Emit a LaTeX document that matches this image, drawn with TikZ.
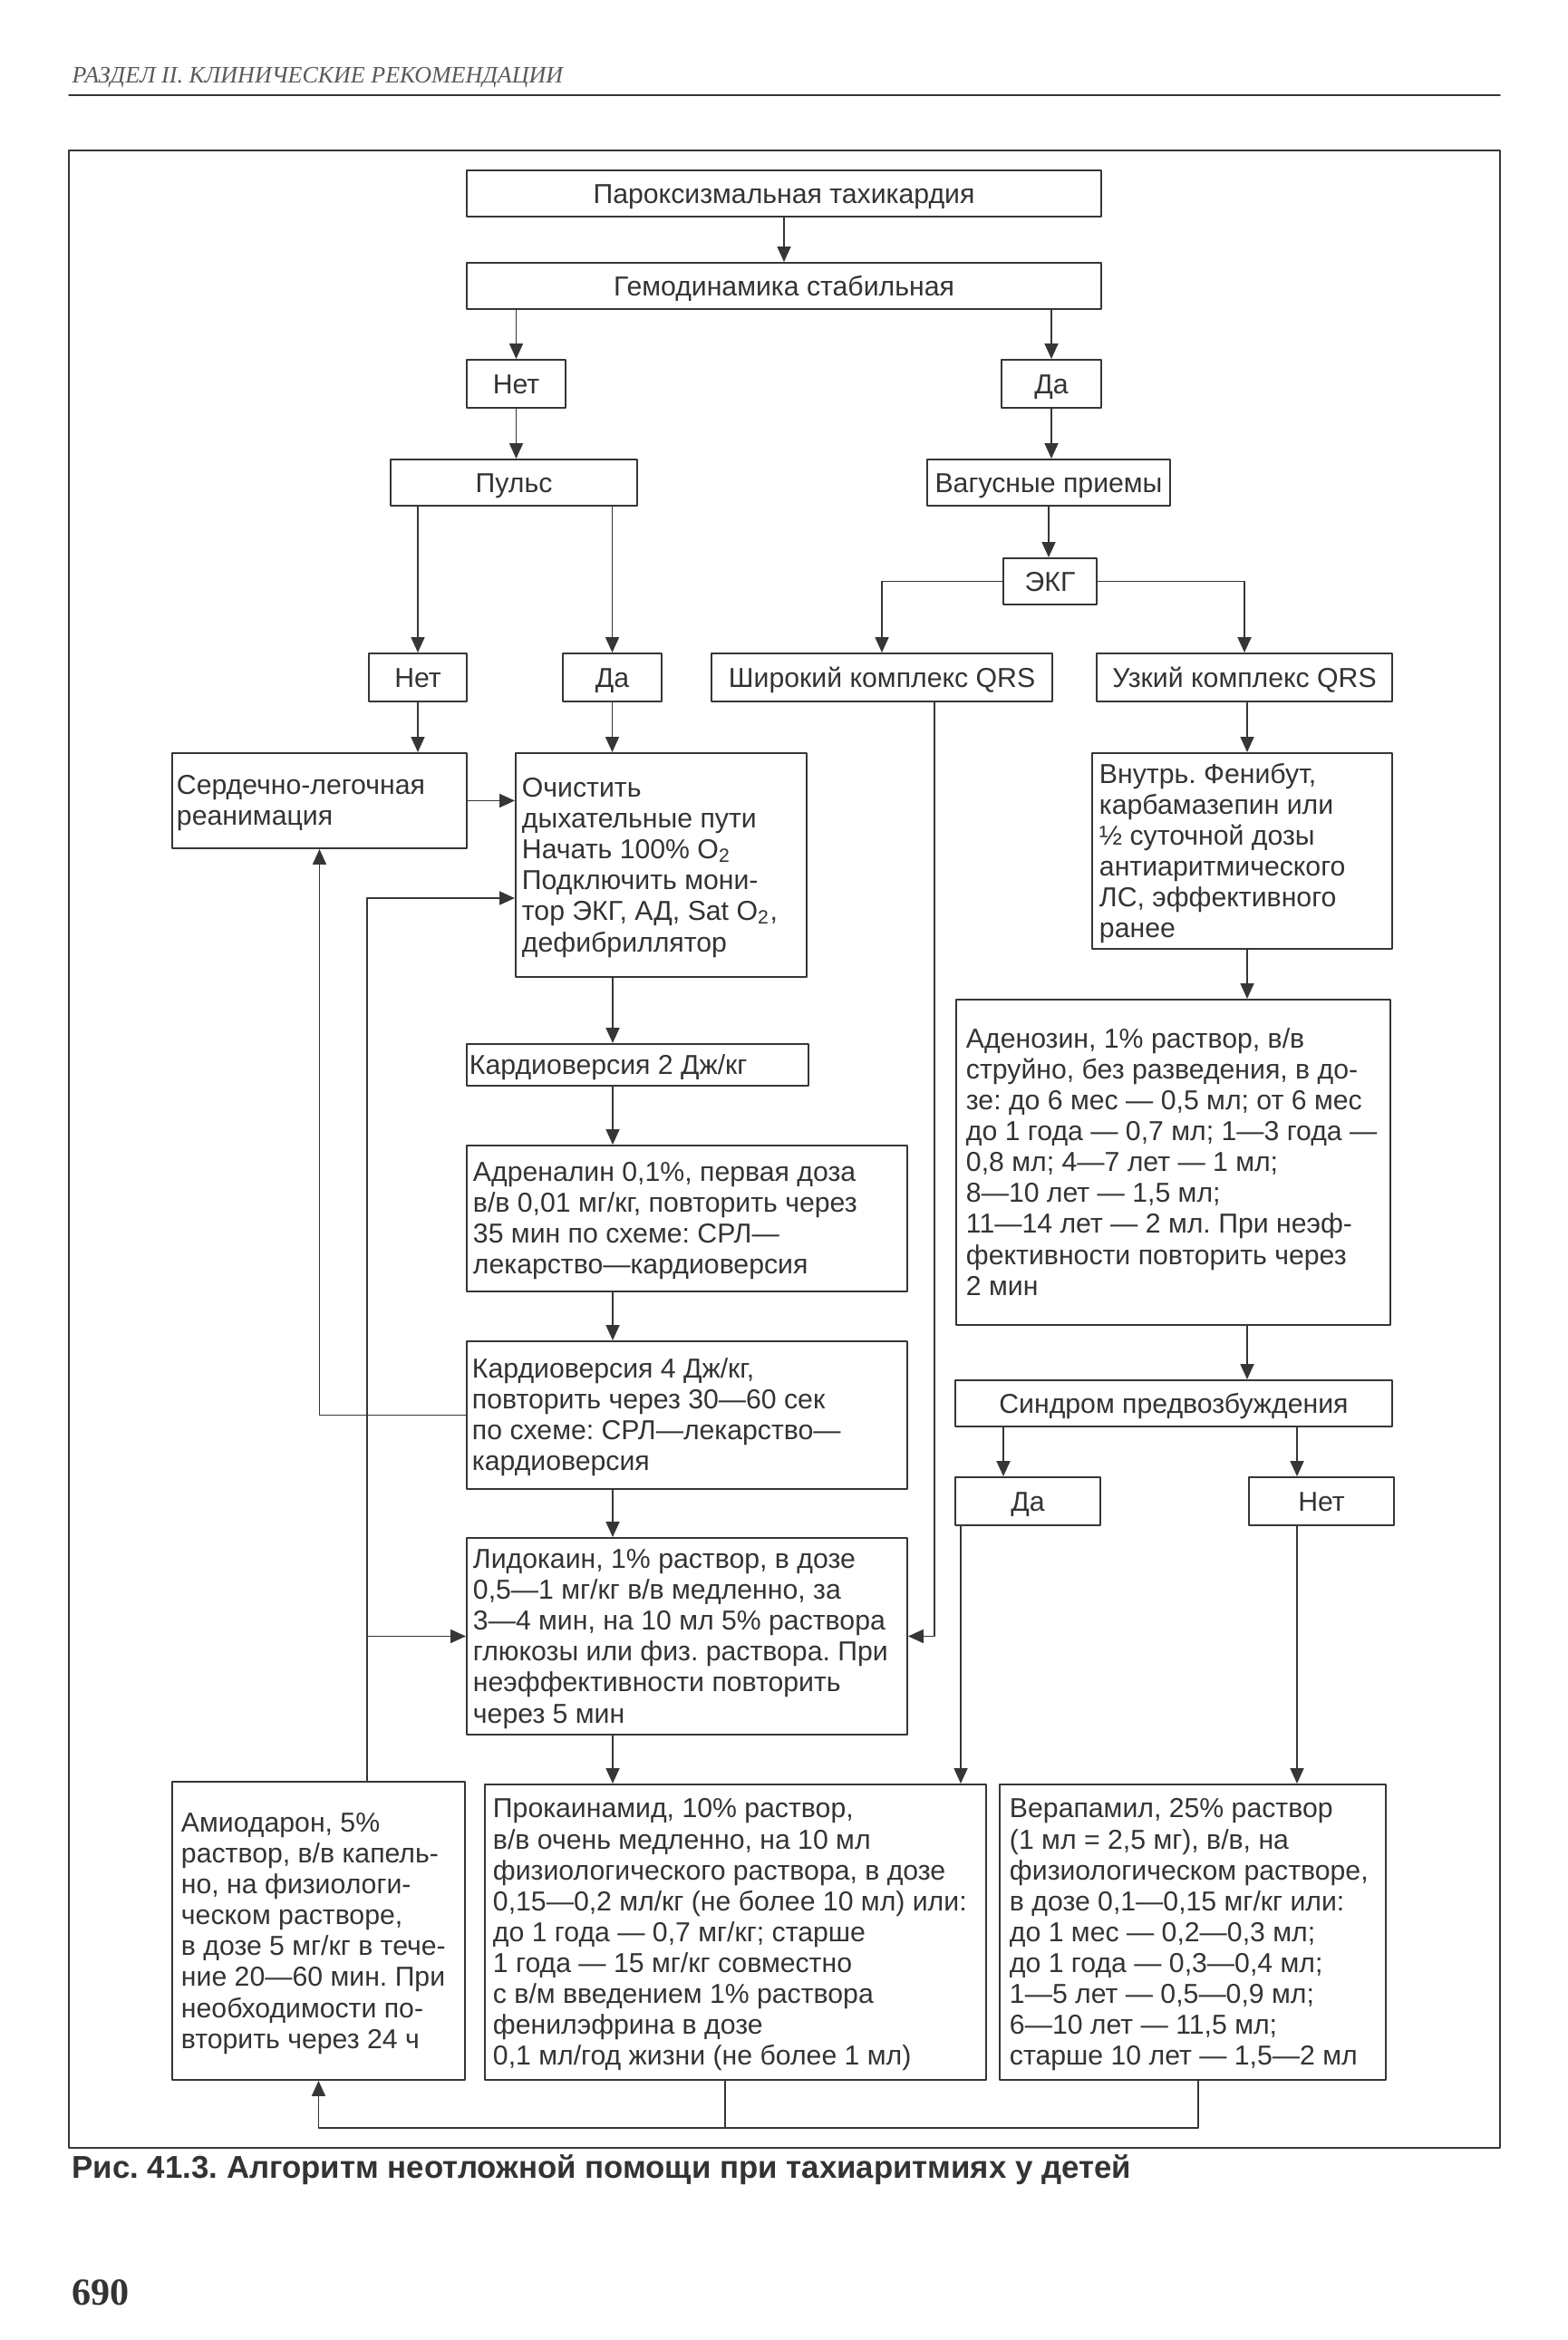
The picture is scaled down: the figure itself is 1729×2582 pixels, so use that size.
\documentclass[tikz,border=0pt]{standalone}
\usepackage{fontspec}
\setmainfont{Liberation Sans}
\newfontfamily\headfont{Liberation Serif}
\usetikzlibrary{arrows.meta}
\frenchspacing

\definecolor{ink}{HTML}{333333}
\definecolor{wire}{HTML}{363636}

% fixed-width block of left-aligned lines (never rewrapped), set a touch lower
\newcommand{\boxlines}[2]{\raisebox{-0.35mm}[\height][\depth]{\makebox[#1][l]{\begin{tabular}{@{}l@{}}#2\end{tabular}}}}

\tikzset{
  box/.style={draw=wire, line width=0.55pt, inner sep=0pt, text=ink,
    font=\fontsize{8.6}{9.7}\selectfont},
  cbox/.style={box, align=center, text height=6.2pt, text depth=0pt},
  tbox/.style={box, anchor=north west, inner xsep=0.8mm},
  arr/.style={draw=wire, line width=0.5pt, -{Triangle[length=1.7mm,width=1.5mm]}},
  wireline/.style={draw=wire, line width=0.5pt},
}

\begin{document}
\begin{tikzpicture}[x=0.1mm, y=-0.1mm, line cap=round, line join=round]
        \useasboundingbox (0,0) rectangle (1729,2582);

        % page header
        \node[anchor=base west, inner sep=0pt, text=black!65] (head) at (79,92)
            {\headfont\itshape\fontsize{7.4}{9}\selectfont РАЗДЕЛ II. КЛИНИЧЕСКИЕ РЕКОМЕНДАЦИИ};
        \draw[wire, line width=0.5pt] (76,105) -- (1655,105);

        % frame
        \draw[wire, line width=0.6pt] (76,166) rectangle (1655,2370);

        % top of the tree
        \node[cbox, minimum width=70mm, minimum height=5.1mm] (tachy) at (865,213.5) {Пароксизмальная тахикардия};
        \node[cbox, minimum width=70mm, minimum height=5.1mm] (hemo) at (865,315.5) {Гемодинамика стабильная};
        \node[cbox, minimum width=10.9mm, minimum height=5.3mm] (hemono) at (569.5,423.5) {Нет};
        \node[cbox, minimum width=11mm, minimum height=5.3mm] (hemoyes) at (1160,423.5) {Да};
        \node[cbox, minimum width=27.2mm, minimum height=5.1mm] (pulse) at (567,532.5) {Пульс};
        \node[cbox, minimum width=26.8mm, minimum height=5.1mm] (vagal) at (1157,532.5) {Вагусные приемы};
        \node[cbox, minimum width=10.3mm, minimum height=5.1mm] (ecg) at (1158.5,641.5) {ЭКГ};
        \node[cbox, minimum width=10.8mm, minimum height=5.3mm] (pulseno) at (461,747.5) {Нет};
        \node[cbox, minimum width=10.9mm, minimum height=5.3mm] (pulseyes) at (675.5,747.5) {Да};
        \node[cbox, minimum width=37.6mm, minimum height=5.3mm] (wide) at (973,747.5) {Широкий комплекс QRS};
        \node[cbox, minimum width=32.6mm, minimum height=5.3mm] (narrow) at (1373,747.5) {Узкий комплекс QRS};

        % left column
        \node[tbox, inner xsep=0.5mm, minimum height=10.5mm] (cpr) at (189,830)
            {\boxlines{31.5mm}{Сердечно-легочная\\реанимация}};
        \node[tbox, inner xsep=0.7mm, minimum height=24.7mm] (clear) at (568,830)
            {\boxlines{30.7mm}{Очистить\\дыхательные пути\\Начать 100\% O\textsubscript{2}\\Подключить мони-\\тор ЭКГ, АД, Sat O\textsubscript{2},\\дефибриллятор}};
        \node[tbox, inner xsep=0.3mm, minimum height=4.6mm] (cvtwo) at (514,1151)
            {\boxlines{37.1mm}{Кардиоверсия 2 Дж/кг}};
        \node[tbox, inner xsep=0.7mm, minimum height=16.1mm] (adren) at (514,1263)
            {\boxlines{47.2mm}{Адреналин 0,1\%, первая доза\\в/в 0,01 мг/кг, повторить через\\35 мин по схеме: СРЛ—\\лекарство—кардиоверсия}};
        \node[tbox, inner xsep=0.6mm, minimum height=16.3mm] (cvfour) at (514,1479)
            {\boxlines{47.4mm}{Кардиоверсия 4 Дж/кг,\\повторить через 30—60 сек\\по схеме: СРЛ—лекарство—\\кардиоверсия}};
        \node[tbox, inner xsep=0.7mm, minimum height=21.7mm] (lido) at (514,1696)
            {\boxlines{47.2mm}{Лидокаин, 1\% раствор, в дозе\\0,5—1 мг/кг в/в медленно, за\\3—4 мин, на 10 мл 5\% раствора\\глюкозы или физ. раствора. При\\неэффективности повторить\\через 5 мин}};

        % right column
        \node[tbox, minimum height=21.6mm] (oral) at (1204,830)
            {\boxlines{31.5mm}{Внутрь. Фенибут,\\карбамазепин или\\½ суточной дозы\\антиаритмического\\ЛС, эффективного\\ранее}};
        \node[tbox, inner xsep=1.1mm, minimum height=35.9mm] (adeno) at (1054,1102)
            {\boxlines{45.7mm}{Аденозин, 1\% раствор, в/в\\струйно, без разведения, в до-\\зе: до 6 мес — 0,5 мл; от 6 мес\\до 1 года — 0,7 мл; 1—3 года —\\0,8 мл; 4—7 лет — 1 мл;\\8—10 лет — 1,5 мл;\\11—14 лет — 2 мл. При неэф-\\фективности повторить через\\2 мин}};
        \node[cbox, minimum width=48.2mm, minimum height=5.1mm] (preex) at (1295,1548.5) {Синдром предвозбуждения};
        \node[cbox, minimum width=16mm, minimum height=5.3mm] (preexyes) at (1134,1656.5) {Да};
        \node[cbox, minimum width=16mm, minimum height=5.3mm] (preexno) at (1458,1656.5) {Нет};

        % bottom row
        \node[tbox, inner xsep=1mm, minimum height=32.9mm] (amio) at (189,1965)
            {\boxlines{30.3mm}{Амиодарон, 5\%\\раствор, в/в капель-\\но, на физиологи-\\ческом растворе,\\в дозе 5 мг/кг в тече-\\ние 20—60 мин. При\\необходимости по-\\вторить через 24 ч}};
        \node[tbox, inner xsep=0.9mm, minimum height=32.6mm] (proca) at (534,1968)
            {\boxlines{53.5mm}{Прокаинамид, 10\% раствор,\\в/в очень медленно, на 10 мл\\физиологического раствора, в дозе\\0,15—0,2 мл/кг (не более 10 мл) или:\\до 1 года — 0,7 мг/кг; старше\\1 года — 15 мг/кг совместно\\с в/м введением 1\% раствора\\фенилэфрина в дозе\\0,1 мл/год жизни (не более 1 мл)}};
        \node[tbox, inner xsep=1.1mm, minimum height=32.6mm] (vera) at (1102,1968)
            {\boxlines{40.4mm}{Верапамил, 25\% раствор\\(1 мл = 2,5 мг), в/в, на\\физиологическом растворе,\\в дозе 0,1—0,15 мг/кг или:\\до 1 мес — 0,2—0,3 мл;\\до 1 года — 0,3—0,4 мл;\\1—5 лет — 0,5—0,9 мл;\\6—10 лет — 11,5 мл;\\старше 10 лет — 1,5—2 мл}};

        % helper points for the connectors
        \coordinate (spine) at (676,0);
        \coordinate (widex) at (1031,0);
        \coordinate (narrx) at (1376,0);
        \coordinate (yesx) at (1107,0);
        \coordinate (nox) at (1431,0);
        \coordinate (procx) at (1060,0);
        \coordinate (loop) at (405,991);
        \coordinate (botleft) at (800,0);
        \coordinate (botright) at (1322,0);
        \coordinate (bot) at (0,2348);

        % upper connectors
        \draw[arr] (tachy) -- (hemo);
        \draw[arr] (hemono |- hemo.south) -- (hemono.north);
        \draw[arr] (hemoyes |- hemo.south) -- (hemoyes.north);
        \draw[arr] (hemono.south) -- (hemono |- pulse.north);
        \draw[arr] (hemoyes.south) -- (hemoyes |- vagal.north);
        \draw[arr] (vagal.south) -- (vagal |- ecg.north);
        \draw[arr] (ecg.west) -| (wide.north);
        \draw[arr] (ecg.east) -| (narrow.north);
        \draw[arr] (pulseno |- pulse.south) -- (pulseno.north);
        \draw[arr] (pulseyes |- pulse.south) -- (pulseyes.north);
        \draw[arr] (pulseno.south) -- (pulseno |- cpr.north);
        \draw[arr] (pulseyes.south) -- (pulseyes |- clear.north);
        \draw[arr] (cpr.east) -- (cpr.east -| clear.west);

        % left spine
        \draw[arr] (spine |- clear.south) -- (spine |- cvtwo.north);
        \draw[arr] (spine |- cvtwo.south) -- (spine |- adren.north);
        \draw[arr] (spine |- adren.south) -- (spine |- cvfour.north);
        \draw[arr] (spine |- cvfour.south) -- (spine |- lido.north);
        \draw[arr] (spine |- lido.south) -- (spine |- proca.north);
        \draw[arr] (cvfour.west) -| (cpr.south);
        \draw[arr] (amio.north -| loop) -- (loop) -- (loop -| clear.west);
        \draw[arr] (loop |- lido.west) -- (lido.west);
        \draw[arr] (wide.south -| widex) |- (lido.east);

        % right spine
        \draw[arr] (narrow.south -| narrx) -- (oral.north -| narrx);
        \draw[arr] (oral.south -| narrx) -- (adeno.north -| narrx);
        \draw[arr] (adeno.south -| narrx) -- (preex.north -| narrx);
        \draw[arr] (preex.south -| yesx) -- (preexyes.north -| yesx);
        \draw[arr] (preex.south -| nox) -- (preexno.north -| nox);
        \draw[arr] (preexyes.south -| procx) -- (proca.north -| procx);
        \draw[arr] (preexno.south -| nox) -- (vera.north -| nox);

        % back to amiodarone
        \draw[wireline] (proca.south -| botleft) -- (botleft |- bot);
        \draw[arr] (vera.south -| botright) -- (botright |- bot) -| (amio.south);

        % caption and page number
        \node[anchor=base west, inner sep=0pt, text=ink, font=\bfseries\fontsize{9.9}{12}\selectfont] (caption) at (79,2403)
            {Рис. 41.3. Алгоритм неотложной помощи при тахиаритмиях у детей};
        \node[anchor=base west, inner sep=0pt, text=ink, font=\headfont\bfseries\fontsize{12}{14}\selectfont] (page) at (79,2543) {690};
    \end{tikzpicture}
\end{document}
